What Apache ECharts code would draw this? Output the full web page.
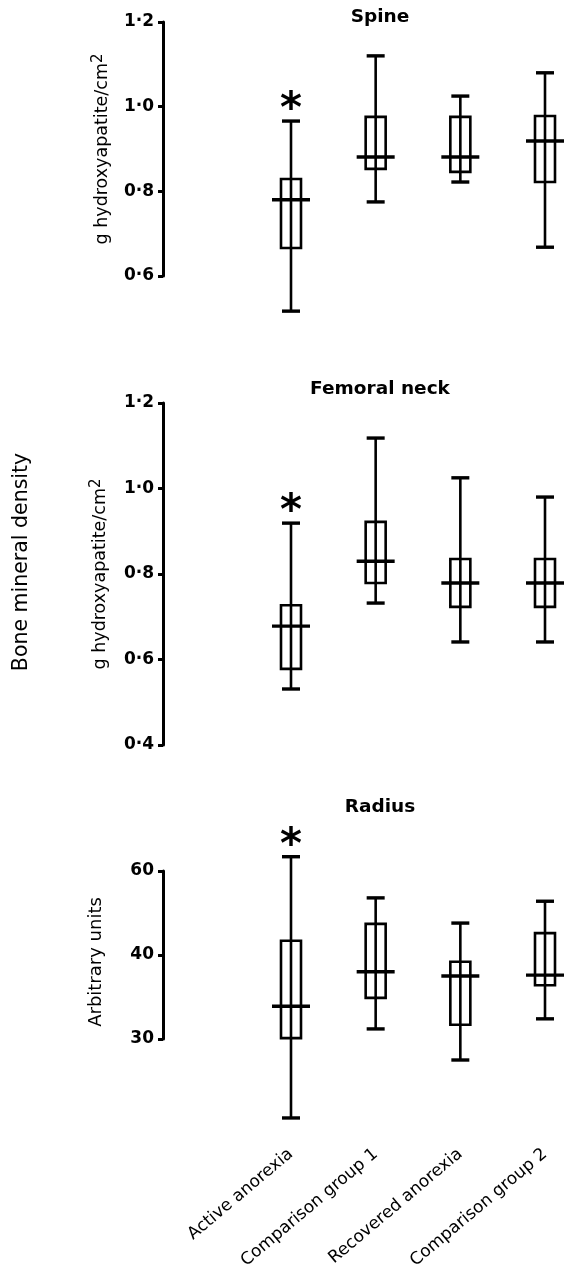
<!DOCTYPE html>
<html>
<head>
<meta charset="utf-8">
<script src="https://cdn.jsdelivr.net/npm/echarts@6/dist/echarts.min.js"></script>
<style>
html,body{margin:0;padding:0;background:#fff;}
#chart{width:566px;height:1277px;}
</style>
</head>
<body>
<div id="chart"></div>
<script>
// ---- data ----
const categories = ['Active anorexia', 'Comparison group 1', 'Recovered anorexia', 'Comparison group 2'];
// each entry: [low whisker, box bottom, median, box top, high whisker]
const spineValues = [
  [0.517, 0.666, 0.780, 0.829, 0.966],
  [0.775, 0.853, 0.881, 0.976, 1.120],
  [0.822, 0.846, 0.881, 0.976, 1.025],
  [0.668, 0.822, 0.919, 0.978, 1.080]
];
const femoralValues = [
  [0.531, 0.578, 0.678, 0.727, 0.919],
  [0.732, 0.779, 0.830, 0.922, 1.118],
  [0.641, 0.723, 0.779, 0.835, 1.025],
  [0.641, 0.723, 0.779, 0.835, 0.980]
];
// The printed radius axis shows 30, 40, 60 at equal spacing; values are read
// on that evenly spaced scale (third tick position = 50 on the linear scale).
const radiusValues = [
  [20.6, 30.1, 33.9, 41.7, 51.7],
  [31.2, 34.9, 38.0, 43.7, 46.8],
  [27.5, 31.7, 37.5, 39.2, 43.8],
  [32.4, 36.4, 37.6, 42.6, 46.4]
];
const significant = [1, 0, 0, 0];
const spineTickLabels = ['0·6', '0·8', '1·0', '1·2'];
const femoralTickLabels = ['0·4', '0·6', '0·8', '1·0', '1·2'];
const radiusTickLabels = ['30', '40', '60'];
const panelTitles = ['Spine', 'Femoral neck', 'Radius'];

// ---- chart ----
const FONT = 'DejaVu Sans';
const chart = echarts.init(document.getElementById('chart'), null, {renderer: 'canvas'});

function rows(vals) {
  return vals.map((v, i) => [i, v[0], v[1], v[2], v[3], v[4], significant[i]]);
}

function renderBox(params, api) {
  const i = api.value(0);
  const lo = api.coord([i, api.value(1)]);
  const q1 = api.coord([i, api.value(2)]);
  const med = api.coord([i, api.value(3)]);
  const q3 = api.coord([i, api.value(4)]);
  const hi = api.coord([i, api.value(5)]);
  const x = hi[0];
  const boxW = 20, medW = 38, capW = 18;
  const children = [
    {type: 'line', shape: {x1: x, y1: hi[1], x2: x, y2: lo[1]}, style: {stroke: '#000', lineWidth: 2.6}},
    {type: 'rect', shape: {x: x - boxW / 2, y: q3[1], width: boxW, height: q1[1] - q3[1]},
      style: {stroke: '#000', lineWidth: 2.6, fill: 'none'}},
    {type: 'line', shape: {x1: x - capW / 2, y1: hi[1], x2: x + capW / 2, y2: hi[1]}, style: {stroke: '#000', lineWidth: 3.4}},
    {type: 'line', shape: {x1: x - capW / 2, y1: lo[1], x2: x + capW / 2, y2: lo[1]}, style: {stroke: '#000', lineWidth: 3.4}},
    {type: 'line', shape: {x1: x - medW / 2, y1: med[1], x2: x + medW / 2, y2: med[1]}, style: {stroke: '#000', lineWidth: 3.4}}
  ];
  if (api.value(6)) {
    children.push({
      type: 'text', x: x, y: hi[1] - 10,
      style: {text: '*', fontSize: 42, fontWeight: 'bold', fontFamily: FONT, fill: '#000',
        align: 'center', verticalAlign: 'middle', textAlign: 'center', textVerticalAlign: 'middle'}
    });
  }
  return {type: 'group', children: children};
}

function yAxisCfg(gridIndex, min, max, interval, ticks, name, nameGap, nameStyle) {
  return {
    type: 'value', gridIndex: gridIndex, min: min, max: max, interval: interval,
    position: 'left', offset: 128,
    axisLine: {show: true, lineStyle: {color: '#000', width: 3}},
    axisTick: {show: true, length: 5, lineStyle: {color: '#000', width: 3}},
    splitLine: {show: false},
    axisLabel: {
      margin: 9, color: '#000', fontSize: 17, fontWeight: 'bold', fontFamily: FONT,
      formatter: function (v) { return ticks[Math.round((v - min) / interval)]; }
    },
    name: name, nameLocation: 'middle', nameRotate: 90, nameGap: nameGap,
    nameTextStyle: nameStyle
  };
}

const supRich = {
  a: {fontSize: 17.5, fontFamily: FONT, color: '#000', lineHeight: 20, verticalAlign: 'bottom'},
  s: {fontSize: 15, fontFamily: FONT, color: '#000', lineHeight: 15, verticalAlign: 'top', padding: [0, 0, 14, 0]}
};

function xAxisCfg(gridIndex, showLabels) {
  return {
    type: 'category', gridIndex: gridIndex, data: categories, boundaryGap: false,
    axisLine: {show: false}, axisTick: {show: false}, splitLine: {show: false},
    axisLabel: {
      show: showLabels, interval: 0, rotate: 40, margin: 113,
      color: '#000', fontSize: 17, fontFamily: FONT
    }
  };
}

const option = {
  backgroundColor: '#fff',
  animation: false,
  title: panelTitles.map((t, k) => ({
    text: t, left: 380, top: [8, 380, 798][k], textAlign: 'center', padding: 0,
    textStyle: {fontSize: 18.5, fontWeight: 'bold', fontFamily: FONT, color: '#000'}
  })),
  grid: [
    {left: 291, right: 21, top: 22, height: 254},
    {left: 291, right: 21, top: 403, height: 342},
    {left: 291, right: 21, top: 871, height: 168}
  ],
  xAxis: [xAxisCfg(0, false), xAxisCfg(1, false), xAxisCfg(2, true)],
  yAxis: [
    yAxisCfg(0, 0.6, 1.2, 0.2, spineTickLabels, '{a|g hydroxyapatite/cm}{s|2}', 49,
      {fontFamily: FONT, fontSize: 17.5, color: '#000', rich: supRich}),
    yAxisCfg(1, 0.4, 1.2, 0.2, femoralTickLabels, '{a|g hydroxyapatite/cm}{s|2}', 54,
      {fontFamily: FONT, fontSize: 17.5, color: '#000', rich: supRich}),
    yAxisCfg(2, 30, 50, 10, radiusTickLabels, 'Arbitrary units', 58,
      {fontFamily: FONT, fontSize: 18, color: '#000', padding: [0, 14, 0, 0]})
  ],
  graphic: [{
    type: 'text', x: 22, y: 562, rotation: Math.PI / 2,
    style: {text: 'Bone mineral density', fontSize: 20.5, fontFamily: FONT, fill: '#000',
      align: 'center', verticalAlign: 'middle', textAlign: 'center', textVerticalAlign: 'middle'}
  }],
  series: [
    {type: 'custom', xAxisIndex: 0, yAxisIndex: 0, renderItem: renderBox, data: rows(spineValues), clip: false,
      encode: {x: 0, y: [1, 2, 3, 4, 5]}},
    {type: 'custom', xAxisIndex: 1, yAxisIndex: 1, renderItem: renderBox, data: rows(femoralValues), clip: false,
      encode: {x: 0, y: [1, 2, 3, 4, 5]}},
    {type: 'custom', xAxisIndex: 2, yAxisIndex: 2, renderItem: renderBox, data: rows(radiusValues), clip: false,
      encode: {x: 0, y: [1, 2, 3, 4, 5]}}
  ]
};
chart.setOption(option);
</script>
</body>
</html>
